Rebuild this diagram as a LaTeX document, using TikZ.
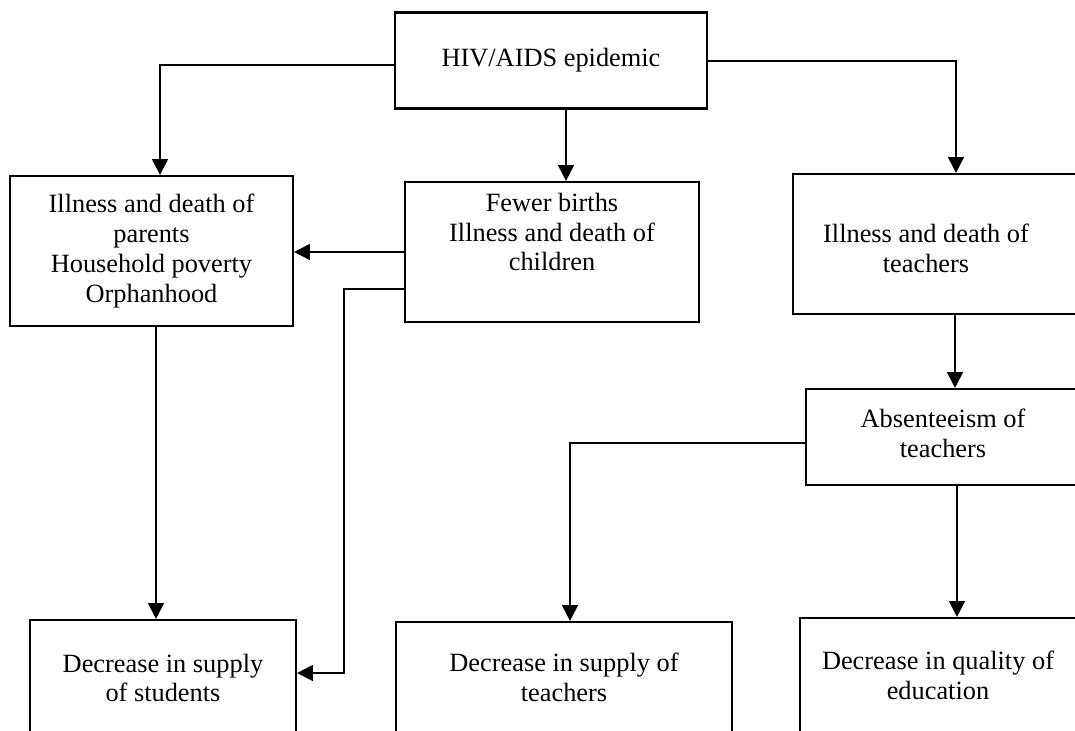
\documentclass[tikz,border=0pt]{standalone}
\usepackage{fontspec}
\setmainfont{Liberation Serif}
\usetikzlibrary{arrows.meta}
\begin{document}
\begin{tikzpicture}[
  box/.style={draw, line width=1.2pt, inner sep=0pt},
  txt/.style={align=center, font=\fontsize{15}{17}\selectfont},
  arr/.style={line width=1.1pt, -{Triangle[length=9pt,width=9pt]}}
]
\useasboundingbox (0,0) rectangle (21.5,-14.62);
\clip (0,0) rectangle (21.5,-14.62);
\node[box, minimum width=6.24cm, minimum height=1.92cm, label={[txt]center:HIV/AIDS epidemic}] (hiv) at (11.02,-1.21) {};
\node[box, minimum width=5.66cm, minimum height=3.0cm, label={[txt]center:Illness and death of\\parents\\Household poverty\\Orphanhood}] (parents) at (3.03,-5.02) {};
\node[box, minimum width=5.88cm, minimum height=2.8cm, label={[txt, yshift=0.4cm]center:Fewer births\\Illness and death of\\children}] (births) at (11.04,-5.04) {};
\node[box, minimum width=6.34cm, minimum height=2.8cm, label={[txt, xshift=-0.51cm, yshift=-0.08cm]center:Illness and death of\\teachers}] (tdeath) at (19.03,-4.88) {};
\node[box, minimum width=6.08cm, minimum height=1.92cm, label={[txt, xshift=-0.3cm, yshift=0.08cm]center:Absenteeism of\\teachers}] (absent) at (19.16,-8.74) {};
\node[box, minimum width=5.32cm, minimum height=3.2cm, label={[txt, yshift=0.44cm]center:Decrease in supply\\of students}] (students) at (3.26,-14.0) {};
\node[box, minimum width=6.72cm, minimum height=3.2cm, label={[txt, yshift=0.5cm]center:Decrease in supply of\\teachers}] (tsupply) at (11.28,-14.04) {};
\node[box, minimum width=6.2cm, minimum height=3.2cm, label={[txt, xshift=-0.34cm, yshift=0.46cm]center:Decrease in quality of\\education}] (quality) at (19.1,-13.96) {};
\coordinate (lft) at (3.2,-1.3);
\coordinate (rgt) at (19.12,-1.22);
\coordinate (mdx) at (11.32,0);
\coordinate (pax) at (3.12,0);
\coordinate (chl) at (6.88,-5.78);
\coordinate (sty) at (0,-13.46);
\coordinate (abl) at (11.4,-8.86);
\coordinate (tdx) at (19.1,0);
\coordinate (abx) at (19.14,0);
\draw[arr] (hiv.west |- lft) -- (lft) -- (lft |- parents.north);
\draw[arr] (hiv.east |- rgt) -- (rgt) -- (rgt |- tdeath.north);
\draw[arr] (hiv.south -| mdx) -- (births.north -| mdx);
\draw[arr] (births.west) -- (births.west -| parents.east);
\draw[arr] (births.west |- chl) -- (chl) -- (chl |- sty) -- (students.east |- sty);
\draw[arr] (parents.south -| pax) -- (students.north -| pax);
\draw[arr] (tdeath.south -| tdx) -- (absent.north -| tdx);
\draw[arr] (absent.west |- abl) -- (abl) -- (abl |- tsupply.north);
\draw[arr] (absent.south -| abx) -- (quality.north -| abx);
\end{tikzpicture}
\end{document}
